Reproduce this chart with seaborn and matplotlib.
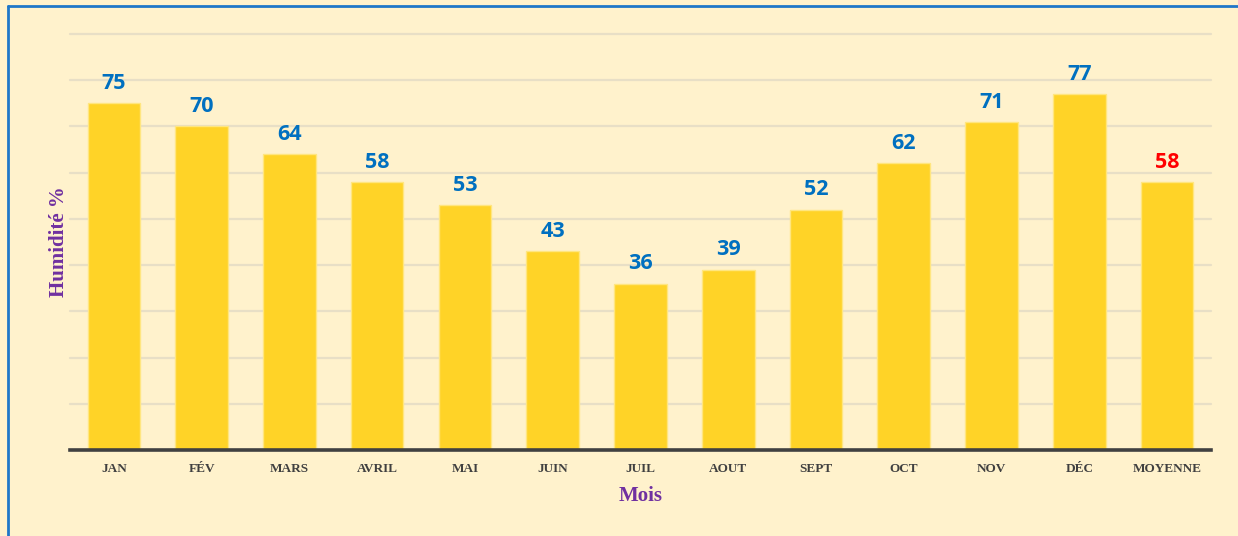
import matplotlib
matplotlib.use("Agg")
import matplotlib.pyplot as plt
import seaborn as sns
import pandas as pd
from matplotlib.lines import Line2D

months = ["JAN", "FÉV", "MARS", "AVRIL", "MAI", "JUIN", "JUIL", "AOUT",
          "SEPT", "OCT", "NOV", "DÉC", "MOYENNE"]
humidity = [75, 70, 64, 58, 53, 43, 36, 39, 52, 62, 71, 77, 58]
label_colors = ["#0070C0"] * 12 + ["#FF0000"]

df = pd.DataFrame({"Mois": months, "Humidite": humidity})

sns.set_theme(style="white")
plt.rcParams["font.family"] = ["DejaVu Sans"]

bg = "#FFF2CC"
fig = plt.figure(figsize=(12.38, 5.36), dpi=100, facecolor=bg)
ax = fig.add_axes([0.0565, 0.1604, 0.9217, 0.7762])
ax.set_facecolor(bg)

sns.barplot(data=df, x="Mois", y="Humidite", color="#FFD327", saturation=1,
            width=0.6, edgecolor="#FFE680", linewidth=1.0, ax=ax, zorder=3)

ax.set_ylim(0, 90)
ax.set_xlim(-0.5, len(months) - 0.5)
ax.set_yticks(range(0, 91, 10))
ax.yaxis.grid(True, color="#E8DFC6", linewidth=1.6, zorder=0)
for gl in ax.get_ygridlines():
    gl.set_clip_on(False)
ax.set_axisbelow(True)
ax.tick_params(axis="y", left=False, labelleft=False)
ax.tick_params(axis="x", bottom=False, pad=3)

for s in ["top", "right", "left"]:
    ax.spines[s].set_visible(False)
ax.spines["bottom"].set_color("#404040")
ax.spines["bottom"].set_linewidth(2.6)
ax.spines["bottom"].set_zorder(5)

for lab in ax.get_xticklabels():
    lab.set_fontfamily("Liberation Serif")
    lab.set_fontweight("bold")
    lab.set_fontsize(9.5)
    lab.set_color("#404040")

for i, (v, c) in enumerate(zip(humidity, label_colors)):
    ax.text(i, v + 2.0, str(v), ha="center", va="bottom", color=c,
            fontsize=15.5, fontweight="bold", family="Open Sans", zorder=6)

ax.set_xlabel("Mois", fontfamily="Liberation Serif", fontweight="bold",
              fontsize=15, color="#7030A0", labelpad=8)
ax.set_ylabel("Humidité %", fontfamily="Liberation Serif", fontweight="bold",
              fontsize=15, color="#7030A0", labelpad=1)

# blue frame lines (left and top)
fig.add_artist(Line2D([8 / 1238, 8 / 1238], [0, 1 - 6 / 536],
                      transform=fig.transFigure, color="#1F77C8", linewidth=2))
fig.add_artist(Line2D([8 / 1238, 1], [1 - 6 / 536, 1 - 6 / 536],
                      transform=fig.transFigure, color="#1F77C8", linewidth=2))

fig.savefig("out.png", dpi=100, facecolor=bg)
